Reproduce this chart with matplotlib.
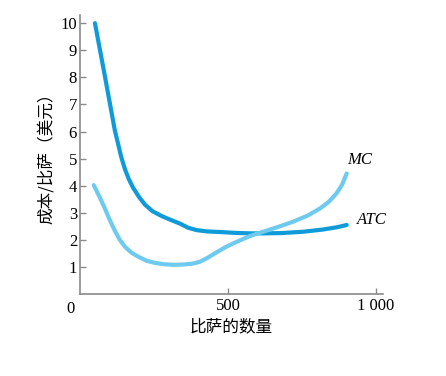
import matplotlib
matplotlib.use('Agg')
import matplotlib.pyplot as plt

# pizzas per day vs cost per pizza (dollars)
atc_q = [51, 84, 118, 129, 140, 152, 165, 180, 200, 220, 245, 276, 304, 338, 365, 394,
         430, 473, 520, 574, 619, 680, 754, 820, 870, 901]
atc_c = [10.0, 8.08, 6.05, 5.55, 5.05, 4.62, 4.25, 3.92, 3.58, 3.30, 3.06, 2.88, 2.75,
         2.60, 2.45, 2.36, 2.31, 2.29, 2.26, 2.24, 2.24, 2.25, 2.30, 2.38, 2.47, 2.55]

mc_q = [47, 66, 84, 100, 118, 135, 152, 175, 197, 225, 253, 285, 315, 349, 380, 405,
        430, 462, 490, 518, 574, 619, 670, 720, 770, 811, 840, 867, 886, 901]
mc_c = [4.02, 3.60, 3.17, 2.76, 2.34, 2.00, 1.75, 1.52, 1.38, 1.23, 1.15, 1.10, 1.08,
        1.09, 1.12, 1.19, 1.33, 1.54, 1.72, 1.87, 2.14, 2.30, 2.48, 2.67, 2.90, 3.16,
        3.40, 3.72, 4.05, 4.45]

yticks = list(range(1, 11))
xticks = [500, 1000]
xticklabels = ['500', '1 000']

serif = ['Liberation Serif', 'DejaVu Serif']
cjk = ['Noto Sans CJK SC', 'DejaVu Sans']

fig = plt.figure(figsize=(4.46, 3.76), dpi=100)
ax = fig.add_axes([0.179, 0.218, 0.680, 0.742])

ax.plot(atc_q, atc_c, color='#0f9bd9', lw=3, solid_capstyle='round', solid_joinstyle='round')
ax.plot(mc_q, mc_c, color='#6ecbef', lw=3, solid_capstyle='round', solid_joinstyle='round')

ax.set_xlim(0, 1024)
ax.set_ylim(0, 10.3)

for s in ['top', 'right']:
    ax.spines[s].set_visible(False)
for s in ['left', 'bottom']:
    ax.spines[s].set_color('#8a8a8a')
    ax.spines[s].set_linewidth(1.2)

ax.set_yticks(yticks)
ax.set_yticklabels([str(v) for v in yticks], fontfamily=serif, fontsize=12)
ax.set_xticks(xticks)
ax.set_xticklabels(xticklabels, fontfamily=serif, fontsize=12)
ax.tick_params(direction='in', length=4, width=1, color='#8a8a8a')
ax.tick_params(axis='y', pad=2)
ax.tick_params(axis='x', pad=3)

ax.text(-0.03, -0.025, '0', transform=ax.transAxes, ha='center', va='top',
        fontfamily=serif, fontsize=12)

ax.set_xlabel('比萨的数量', fontfamily=cjk, fontsize=12, labelpad=3)
ax.set_ylabel('成本/比萨（美元）', fontfamily=cjk, fontsize=12, labelpad=4)

ax.text(945, 4.95, 'MC', fontfamily=serif, fontstyle='italic', fontsize=12,
        ha='center', va='center', clip_on=False)
ax.text(985, 2.75, 'ATC', fontfamily=serif, fontstyle='italic', fontsize=12,
        ha='center', va='center', clip_on=False)

fig.savefig('out.png', dpi=100)
